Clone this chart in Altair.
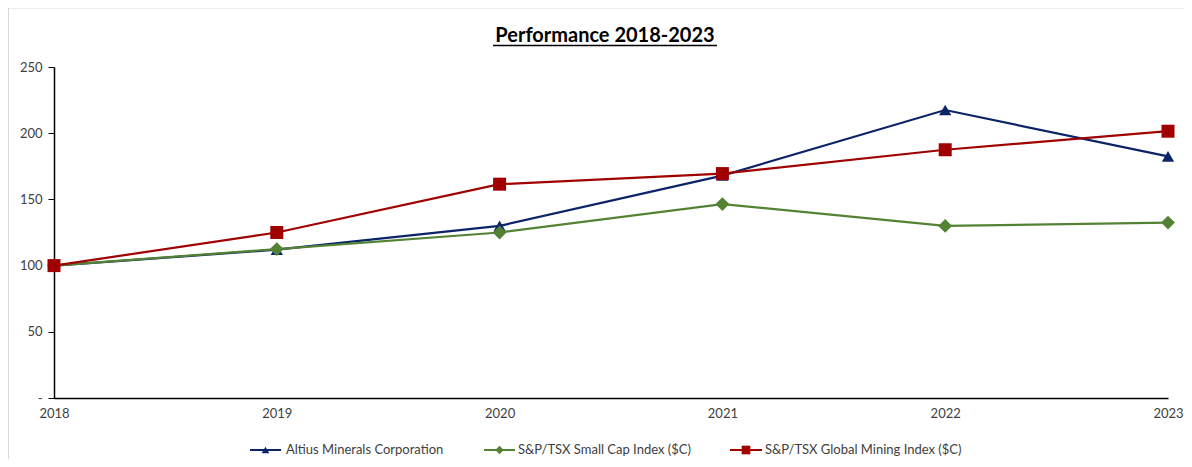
import altair as alt
import pandas as pd

years = [2018, 2019, 2020, 2021, 2022, 2023]
altius = [100, 112, 130, 168, 217.5, 182.5]
small_cap = [100, 112.5, 125, 146.5, 130, 132.5]
mining = [100, 125, 161.5, 169.5, 187.5, 201.5]
series = ["Altius Minerals Corporation", "S&P/TSX Small Cap Index ($C)",
          "S&P/TSX Global Mining Index ($C)"]
colors = ["#0B2468", "#548235", "#A00000"]
shapes = ["triangle-up", "diamond", "square"]
marker_sizes = [150, 190, 169]
legend_sizes = [60, 70, 75]
y_ticks = [0, 50, 100, 150, 200, 250]
title_text = "Performance 2018-2023"

FONT = "Lato"
W, H = 1114, 331

rows = []
for name, vals in zip(series, [altius, small_cap, mining]):
    for yr, v in zip(years, vals):
        rows.append({"year": yr, "value": v, "series": name})
df = pd.DataFrame(rows)

xenc = alt.X("year:Q", scale=alt.Scale(domain=[2018, 2023], nice=False, zero=False),
             axis=alt.Axis(values=years, format="d", title=None, ticks=False, grid=False,
                           labelPadding=9, labelFontSize=13, labelColor="#404040",
                           labelFont=FONT, domainColor="#000000", domainWidth=1.5,
                           labelFlush=False))
yenc = alt.Y("value:Q", scale=alt.Scale(domain=[0, 250], nice=False),
             axis=alt.Axis(values=y_ticks, title=None, grid=False, tickSize=6,
                           tickColor="#000000", tickWidth=1, labelPadding=6,
                           labelFontSize=13, labelColor="#404040", labelFont=FONT,
                           domainColor="#000000", domainWidth=1.5,
                           labelExpr="datum.value == 0 ? '-' : datum.label"))

layers = []
for i, name in enumerate(series):
    sub = df[df.series == name]
    line = alt.Chart(sub).mark_line(strokeWidth=2.2, color=colors[i]).encode(x=xenc, y=yenc)
    pts = alt.Chart(sub).mark_point(filled=True, opacity=1, shape=shapes[i],
                                    size=marker_sizes[i], color=colors[i]).encode(x=xenc, y=yenc)
    layers += [line, pts]

# legend drawn manually (line + marker + label)
leg_line_x = [(196, 227), (430, 461), (676, 708)]
leg_text_x = [232, 464, 711]
leg_y = 383
for i, name in enumerate(series):
    ldf = pd.DataFrame({"label": [name]})
    x1, x2 = leg_line_x[i]
    layers.append(alt.Chart(ldf).mark_rule(color=colors[i], strokeWidth=2).encode(
        x=alt.value(x1), x2=alt.value(x2), y=alt.value(leg_y)))
    layers.append(alt.Chart(ldf).mark_point(filled=True, opacity=1, shape=shapes[i],
                                            size=legend_sizes[i], color=colors[i]).encode(
        x=alt.value((x1 + x2) / 2), y=alt.value(leg_y)))
    layers.append(alt.Chart(ldf).mark_text(align="left", baseline="middle", font=FONT,
                                           fontSize=13, color="#404040").encode(
        x=alt.value(leg_text_x[i]), y=alt.value(leg_y), text="label:N"))

# title with underline
tdf = pd.DataFrame({"t": [title_text]})
layers.append(alt.Chart(tdf).mark_text(align="center", baseline="alphabetic", font=FONT,
                                       fontSize=20, fontWeight="bold", color="#000000").encode(
    x=alt.value(551), y=alt.value(-25), text="t:N"))
layers.append(alt.Chart(tdf).mark_rule(color="#000000", strokeWidth=1.5).encode(
    x=alt.value(439), x2=alt.value(663), y=alt.value(-21.5)))

# chart border (top and left)
layers.append(alt.Chart(tdf).mark_rule(color="#D9D9D9", strokeWidth=1).encode(
    x=alt.value(-45.5), y=alt.value(-59), y2=alt.value(400)))
layers.append(alt.Chart(tdf).mark_rule(color="#D9D9D9", strokeWidth=1).encode(
    x=alt.value(-45.5), x2=alt.value(1140), y=alt.value(-59)))

chart = alt.layer(*layers).properties(
    width=W, height=H,
    autosize=alt.AutoSizeParams(type="none"),
    padding={"left": 46, "top": 59, "right": 16, "bottom": 61},
    background="white",
).configure_view(stroke=None)

chart.save("out.html", embed_options={"renderer": "svg", "actions": False})
